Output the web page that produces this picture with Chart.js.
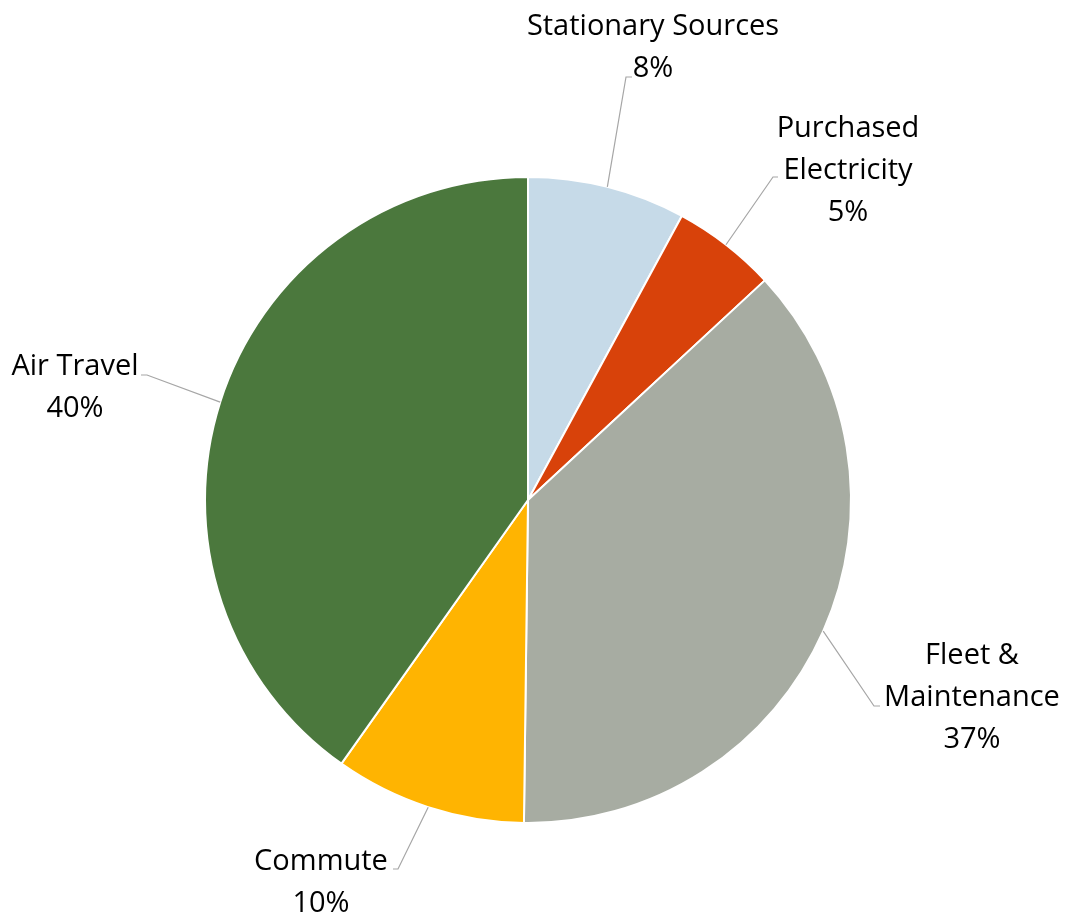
<!DOCTYPE html>
<html>
<head>
<meta charset="utf-8">
<script src="https://cdn.jsdelivr.net/npm/chart.js@4"></script>
<style>
  html, body { margin: 0; padding: 0; background: #fff; }
  #wrap { width: 1071px; height: 921px; }
</style>
</head>
<body>
<div id="wrap"><canvas id="pie" width="1071" height="921"></canvas></div>
<script>
// Emission sources (share of total, %)
const categories = ['Stationary Sources', 'Purchased Electricity', 'Fleet & Maintenance', 'Commute', 'Air Travel'];
const shares = [7.9, 5.2, 37.1, 9.6, 40.2];
const labelLines = [['Stationary Sources'], ['Purchased', 'Electricity'], ['Fleet &', 'Maintenance'], ['Commute'], ['Air Travel']];
const sliceColors = ['#c6dae8', '#d8420a', '#a7aca2', '#ffb401', '#4b783d'];

// Label placement relative to the pie centre: text centre x, first baseline y,
// elbow of the leader line, and which side the short horizontal tail points to.
const labelPlacement = [
  { tx: 125, ty: -465, ex: 98,  ey: -423, tail: 6 },
  { tx: 320, ty: -363, ex: 245, ey: -323, tail: 5 },
  { tx: 444, ty: 164,  ex: 346, ey: 206,  tail: 6 },
  { tx: -207, ty: 370, ex: -130, ey: 369, tail: -5 },
  { tx: -453, ty: -125, ex: -381, ey: -125, tail: -6 }
];

const LINE_H = 42;
const FONT = '29px "Open Sans", sans-serif';

const outsideLabels = {
  id: 'outsideLabels',
  afterDatasetsDraw(chart) {
    const ctx = chart.ctx;
    const meta = chart.getDatasetMeta(0);
    const data = chart.data.datasets[0].data;
    const total = data.reduce((a, b) => a + b, 0);
    meta.data.forEach((arc, i) => {
      const p = arc.getProps(['x', 'y', 'startAngle', 'endAngle', 'outerRadius'], true);
      const mid = (p.startAngle + p.endAngle) / 2;
      const sx = p.x + Math.cos(mid) * p.outerRadius;
      const sy = p.y + Math.sin(mid) * p.outerRadius;
      const pl = labelPlacement[i];
      const ex = p.x + pl.ex, ey = p.y + pl.ey;
      ctx.save();
      ctx.strokeStyle = '#a6a6a6';
      ctx.lineWidth = 1.2;
      ctx.beginPath();
      ctx.moveTo(sx, sy);
      ctx.lineTo(ex, ey);
      ctx.lineTo(ex + pl.tail, ey);
      ctx.stroke();

      ctx.fillStyle = '#000';
      ctx.font = FONT;
      ctx.textAlign = 'center';
      ctx.textBaseline = 'alphabetic';
      const lines = labelLines[i].concat([Math.round(data[i] / total * 100) + '%']);
      lines.forEach((t, k) => {
        ctx.fillText(t, p.x + pl.tx, p.y + pl.ty + k * LINE_H);
      });
      ctx.restore();
    });
  }
};

new Chart(document.getElementById('pie'), {
  type: 'pie',
  data: {
    labels: categories,
    datasets: [{
      data: shares,
      backgroundColor: sliceColors,
      borderColor: '#ffffff',
      borderWidth: 2
    }]
  },
  options: {
    responsive: false,
    animation: false,
    layout: { padding: { left: 204, top: 176, right: 219, bottom: 97 } },
    plugins: {
      legend: { display: false },
      tooltip: { enabled: false }
    }
  },
  plugins: [outsideLabels]
});
</script>
</body>
</html>
